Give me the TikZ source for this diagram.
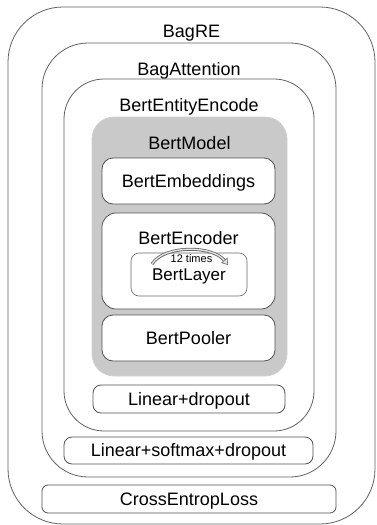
\documentclass[tikz,border=0pt]{standalone}
\usepackage{fontspec}
\setmainfont{Liberation Sans}
\usetikzlibrary{positioning,arrows.meta}

\newcommand{\boxfont}{\fontsize{18}{21}\selectfont}
\newcommand{\smallnote}{\fontsize{11}{13}\selectfont}

\begin{document}
\begin{tikzpicture}[
    x=1pt, y=-1pt,
    container/.style={draw=black!62, line width=0.8pt, inner sep=0pt},
    block/.style={draw=black!68, line width=0.8pt, fill=white, font=\boxfont, text height=12.9pt, text depth=0pt, inner sep=0pt},
    heading/.style={font=\boxfont, text height=12.9pt, text depth=0pt, inner sep=0pt},
    repeatarrow/.style={draw=black!60, line width=3pt, -{Triangle[length=6pt, width=8pt, line width=0.6pt, fill=black!10]}},
]
\useasboundingbox (0,0) rectangle (376,525);

% ================== nested wrappers ==================
\node[container, rounded corners=55pt, minimum width=367pt, minimum height=517pt] (bagre) at (191.5,265.5) {};
\node[heading, below=17.5pt of bagre.north] (bagreT) {BagRE};

\node[container, rounded corners=46pt, minimum width=294pt, minimum height=434pt] (bagatt) at (189,260) {};
\node[heading, below=20pt of bagatt.north] (bagattT) {BagAttention};

\node[container, rounded corners=40pt, minimum width=250pt, minimum height=352pt] (entenc) at (189,255) {};
\node[heading, below=19.5pt of entenc.north] (entencT) {BertEntityEncode};

% ================== BERT model ==================
\node[container, draw=black!18, fill=black!21, rounded corners=22pt, minimum width=195pt, minimum height=259pt] (bert) at (189.5,246.5) {};
\node[heading, below=19.5pt of bert.north] (bertT) {BertModel};

\node[block, rounded corners=11pt, minimum width=173pt, minimum height=46pt] (emb) at (188.5,181) {BertEmbeddings};
\node[block, rounded corners=14pt, minimum width=173pt, minimum height=96pt] (enc) at (188.5,261) {};
\node[heading, below=19pt of enc.north] (encT) {BertEncoder};
\node[block, draw=black!60, line width=0.6pt, rounded corners=8pt, minimum width=116pt, minimum height=43pt, font=\fontsize{17}{20}\selectfont, text height=12.2pt] (layer) at (189,274.5) {BertLayer};
\node[block, rounded corners=11pt, minimum width=173pt, minimum height=46pt] (pool) at (188.5,338) {BertPooler};

% repeated layer
\coordinate (repS) at (152,264);
\coordinate (repE) at (228,265);
\draw[repeatarrow] (repS) .. controls (164,245) and (212,245) .. (repE);
\draw[black!10, line width=1.3pt, shorten <=0.3pt, shorten >=6pt] (repS) .. controls (164,245) and (212,245) .. (repE);
\node[heading, font=\smallnote, text height=7.9pt] (times) at (191.5,259) {12 times};

% ================== heads ==================
\node[block, rounded corners=8pt, minimum width=192pt, minimum height=28pt] (lin) at (189,399) {Linear+dropout};
\node[block, rounded corners=8pt, minimum width=249pt, minimum height=27pt] (linsm) at (188.5,450.5) {Linear+softmax+dropout};
\node[block, rounded corners=6pt, minimum width=294pt, minimum height=28pt] (loss) at (189,499) {CrossEntropLoss};

\end{tikzpicture}
\end{document}
